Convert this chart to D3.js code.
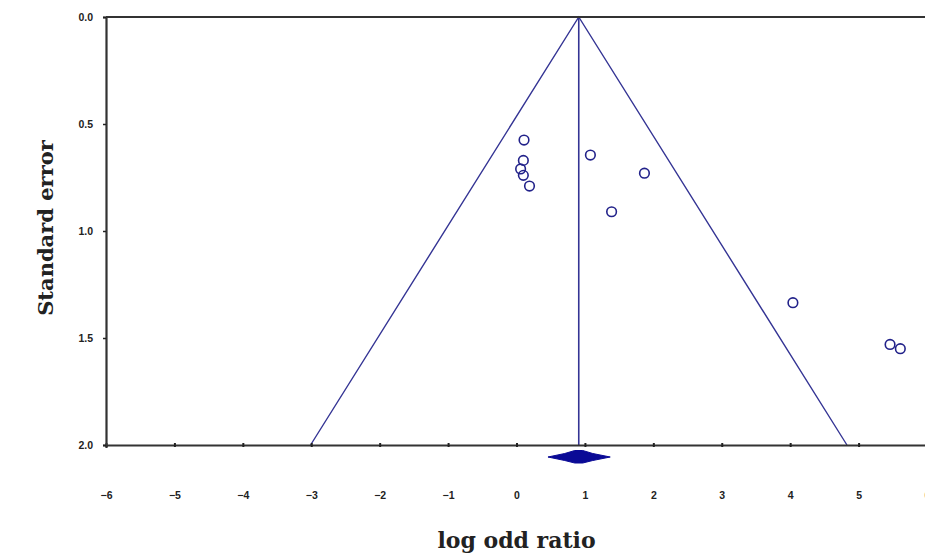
<!DOCTYPE html>
<html>
<head>
<meta charset="utf-8">
<script src="https://cdn.jsdelivr.net/npm/d3@7"></script>
<style>
  body { margin: 0; background: #fff; }
  svg { display: block; }
</style>
</head>
<body>
<div id="chart"></div>
<script>
// study estimates
const logOR = [0.11, 0.10, 0.06, 0.10, 0.19, 1.08, 1.87, 1.39, 4.04, 5.46, 5.61];
const stdErr = [0.575, 0.67, 0.71, 0.74, 0.79, 0.645, 0.73, 0.91, 1.335, 1.53, 1.55];

// pooled estimate and its confidence interval
const pooled = 0.91;
const pooledCI = [0.46, 1.37];

const xTicks = [-6, -5, -4, -3, -2, -1, 0, 1, 2, 3, 4, 5, 6];
const yTicks = [0.0, 0.5, 1.0, 1.5, 2.0];

const W = 925, H = 555;
const margin = {top: 17, right: -2, bottom: 110, left: 106};
const width = W - margin.left - margin.right;
const height = H - margin.top - margin.bottom;

const svg = d3.select("#chart")
    .append("svg")
    .attr("width", W)
    .attr("height", H)
    .append("g")
    .attr("transform", `translate(${margin.left},${margin.top})`);

const x = d3.scaleLinear().domain([-6, 6]).range([0, width]);
const y = d3.scaleLinear().domain([0, 2]).range([0, height]);

const lineColor = "#343494";

// funnel (pseudo 95% limits)
const funnel = [[pooled - 1.96 * 2, 2], [pooled, 0], [pooled + 1.96 * 2, 2]];
svg.append("path")
    .attr("d", d3.line().x(d => x(d[0])).y(d => y(d[1]))(funnel))
    .attr("fill", "none")
    .attr("stroke", lineColor)
    .attr("stroke-width", 1.4);

// vertical line at pooled estimate
svg.append("line")
    .attr("x1", x(pooled)).attr("x2", x(pooled))
    .attr("y1", y(0)).attr("y2", y(2))
    .attr("stroke", lineColor)
    .attr("stroke-width", 1.6);

// top frame
svg.append("line")
    .attr("x1", 0).attr("x2", width)
    .attr("y1", 0).attr("y2", 0)
    .attr("stroke", "#333")
    .attr("stroke-width", 2);

// x axis
const xAxis = d3.axisBottom(x).tickValues(xTicks).tickSize(3)
    .tickFormat(d => d3.format("d")(d));
const gx = svg.append("g")
    .attr("transform", `translate(0,${height})`)
    .call(xAxis);
gx.select(".domain").attr("stroke", "#333").attr("stroke-width", 2.2);
gx.selectAll(".tick line").attr("stroke", "#222").attr("stroke-width", 2).attr("y1", -2).attr("y2", 2);
gx.selectAll(".tick text")
    .attr("y", 47)
    .attr("font-family", "Liberation Sans, Arial, sans-serif")
    .attr("font-weight", "bold")
    .attr("font-size", 10.5)
    .attr("fill", "#222");

// y axis
const yAxis = d3.axisLeft(y).tickValues(yTicks).tickSize(3)
    .tickFormat(d3.format(".1f"));
const gy = svg.append("g").call(yAxis);
gy.select(".domain").attr("stroke", "#333").attr("stroke-width", 2.2);
gy.selectAll(".tick line").attr("stroke", "#222").attr("stroke-width", 1.5);
gy.selectAll(".tick text")
    .attr("x", -13)
    .attr("font-family", "Liberation Sans, Arial, sans-serif")
    .attr("font-weight", "bold")
    .attr("font-size", 10.5)
    .attr("fill", "#222");

// study points
svg.selectAll("circle.study")
    .data(logOR.map((v, i) => ({x: v, se: stdErr[i]})))
    .enter()
    .append("circle")
    .attr("class", "study")
    .attr("cx", d => x(d.x))
    .attr("cy", d => y(d.se))
    .attr("r", 4.8)
    .attr("fill", "none")
    .attr("stroke", "#22228a")
    .attr("stroke-width", 1.6);

// pooled diamond
const dy = y(2) + 12;
const diamond = [
    [x(pooledCI[0]), dy],
    [x(pooled) - 14, dy - 3.5],
    [x(pooled) - 4, dy - 6.5],
    [x(pooled) + 4, dy - 6.5],
    [x(pooled) + 14, dy - 3.5],
    [x(pooledCI[1]), dy],
    [x(pooled) + 14, dy + 3.5],
    [x(pooled) + 4, dy + 6],
    [x(pooled) - 4, dy + 6],
    [x(pooled) - 14, dy + 3.5]
];
svg.append("polygon")
    .attr("points", diamond.map(p => p.join(",")).join(" "))
    .attr("fill", "#0a0a96")
    .attr("stroke", "#0a0a96")
    .attr("stroke-width", 1);

// axis titles
svg.append("text")
    .attr("x", x(0))
    .attr("y", height + 103)
    .attr("text-anchor", "middle")
    .attr("font-family", "DejaVu Serif, serif")
    .attr("font-weight", "bold")
    .attr("font-size", 22)
    .attr("fill", "#222")
    .text("log odd ratio");

svg.append("text")
    .attr("transform", `translate(${-margin.left + 53},${y(1.0) - 3}) rotate(-90)`)
    .attr("text-anchor", "middle")
    .attr("font-family", "DejaVu Serif, serif")
    .attr("font-weight", "bold")
    .attr("font-size", 21)
    .attr("fill", "#222")
    .text("Standard error");
</script>
</body>
</html>
